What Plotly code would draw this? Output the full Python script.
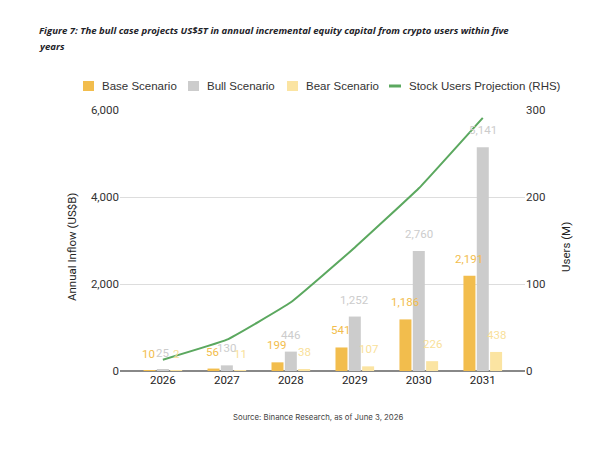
import plotly.graph_objects as go

years = ["2026", "2027", "2028", "2029", "2030", "2031"]
base = [10, 56, 199, 541, 1186, 2191]
bull = [25, 130, 446, 1252, 2760, 5141]
bear = [2, 11, 38, 107, 226, 438]
users = [13, 36, 79, 142, 210, 291]

# the page body adds an 8px margin, so the figure is drawn 8px smaller
OFF = 8
W, H = 597 - OFF, 453 - OFF
L, R, T, B = 112, 72, 102, 82
PW, PH = W - L - R, H - T - B


def px(x):
    # screen x -> paper x
    return (x - OFF - L) / PW


def py(y):
    # screen y -> paper y
    return 1 - (y - OFF - T) / PH


series = [
    ("Base Scenario", base, "#F2BD4D", "#F2BD4D", -14, 83),
    ("Bull Scenario", bull, "#CCCCCC", "#CCCCCC", 0, 188),
    ("Bear Scenario", bear, "#FBE4A2", "#F9DF9A", 14, 287),
]

fig = go.Figure()
for name, vals, col, tcol, dx, lx in series:
    fig.add_trace(go.Bar(x=years, y=vals, name=name, marker_color=col,
                         marker_line_width=0))
    # value labels sit a bit above each bar, as in the original
    for i, v in enumerate(vals):
        fig.add_annotation(x=i, y=v, text=f"{v:,}", showarrow=False,
                           xshift=dx, yshift=17, yanchor="middle",
                           font=dict(size=11.5, color=tcol))
    # hand-made legend entry (plotly's own legend wraps at this width)
    fig.add_shape(type="rect", xref="paper", yref="paper", x0=px(lx), x1=px(lx + 11),
                  y0=py(91), y1=py(81), fillcolor=col, line_width=0)
    fig.add_annotation(text=name, xref="paper", yref="paper", x=px(lx + 17), y=py(86),
                       xanchor="left", yanchor="middle", showarrow=False,
                       font=dict(family="Liberation Sans", size=11.5, color="#333333"))

line_name = "Stock Users Projection (RHS)"
fig.add_trace(go.Scatter(x=years, y=users, name=line_name,
                         mode="lines", yaxis="y2",
                         line=dict(color="#5BA85F", width=2, shape="spline", smoothing=0.3)))
fig.add_shape(type="line", xref="paper", yref="paper", x0=px(389), x1=px(401),
              y0=py(86), y1=py(86), line=dict(color="#5BA85F", width=3))
fig.add_annotation(text=line_name, xref="paper", yref="paper", x=px(407), y=py(86),
                   xanchor="left", yanchor="middle", showarrow=False,
                   font=dict(family="Liberation Sans", size=11.5, color="#333333"))

# title, two lines set apart like the original
title_lines = ["Figure 7: The bull case projects US$5T in annual incremental equity capital from crypto users within five",
               "years"]
for ty, line in zip([30, 47], title_lines):
    fig.add_annotation(text=f"<b><i>{line}</i></b>", xref="paper", yref="paper",
                       x=px(37), y=py(ty), xanchor="left", yanchor="middle",
                       showarrow=False, font=dict(family="Open Sans", size=9.6, color="#1E2329"))

# axis titles
fig.add_annotation(text="Annual Inflow (US$B)", xref="paper", yref="paper", x=px(63), y=py(247),
                   textangle=-90, showarrow=False, font=dict(size=11.5, color="#222222"))
fig.add_annotation(text="Users (M)", xref="paper", yref="paper", x=px(575), y=py(247),
                   textangle=-90, showarrow=False, font=dict(size=11.5, color="#222222"))

fig.add_annotation(text="Source: Binance Research, as of June 3, 2026",
                   xref="paper", yref="paper", x=px(318), y=py(417), xanchor="center", yanchor="middle",
                   showarrow=False, font=dict(family="Inter", size=7.8, color="#444444"))

fig.update_layout(
    width=W, height=H,
    margin=dict(l=L, r=R, t=T, b=B),
    paper_bgcolor="white", plot_bgcolor="white",
    font=dict(family="Roboto, Arial", size=11, color="#222222"),
    barmode="group", bargap=0.375, bargroupgap=0.1,
    showlegend=False,
    xaxis=dict(type="category", range=[-0.67, 5.66], showgrid=False, ticks="",
               automargin=False, tickfont=dict(size=11.5, color="#222222")),
    yaxis=dict(range=[0, 6000], tickvals=[0, 2000, 4000, 6000], tickformat=",",
               gridcolor="#DDDDDD", gridwidth=1, zeroline=True, zerolinecolor="#888888",
               zerolinewidth=1.5, automargin=False,
               tickfont=dict(size=11.5, color="#333333"), ticksuffix=" "),
    yaxis2=dict(range=[0, 300], tickvals=[0, 100, 200, 300], overlaying="y", side="right",
                showgrid=False, zeroline=False, automargin=False,
                tickfont=dict(size=11.5, color="#333333"), tickprefix="  "),
)

fig.write_html("out.html")
